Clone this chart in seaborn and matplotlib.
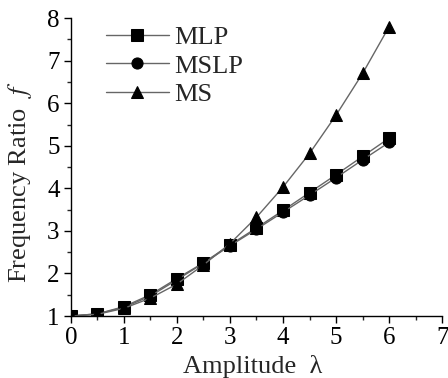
import numpy as np
import pandas as pd
import matplotlib
matplotlib.use("Agg")
import matplotlib.pyplot as plt
import seaborn as sns
from matplotlib.ticker import MultipleLocator

amplitude = [0, 0.5, 1, 1.5, 2, 2.5, 3, 3.5, 4, 4.5, 5, 5.5, 6]
mlp = [1.0, 1.05, 1.22, 1.50, 1.88, 2.25, 2.67, 3.07, 3.48, 3.90, 4.32, 4.75, 5.18]
mslp = [1.0, 1.05, 1.20, 1.47, 1.85, 2.24, 2.65, 3.04, 3.44, 3.84, 4.25, 4.67, 5.08]
ms = [1.0, 1.04, 1.18, 1.42, 1.75, 2.20, 2.70, 3.32, 4.03, 4.82, 5.72, 6.70, 7.80]

series_names = ["MLP", "MSLP", "MS"]
markers = ["s", "o", "^"]

df = pd.DataFrame({
    "Amplitude": amplitude * 3,
    "Ratio": mlp + mslp + ms,
    "Method": [n for n in series_names for _ in amplitude],
})

sns.set_style("ticks")
plt.rcParams["font.family"] = ["Liberation Serif", "DejaVu Serif"]
plt.rcParams["mathtext.fontset"] = "stix"

fig = plt.figure(figsize=(4.48, 3.78), dpi=100)
ax = fig.add_axes([0.158, 0.164, 0.829, 0.788])

for name, mk in zip(series_names, markers):
    sub = df[df["Method"] == name]
    sns.lineplot(data=sub, x="Amplitude", y="Ratio", ax=ax, color="#666666",
                 linewidth=1.0, marker=mk, markersize=8, markerfacecolor="black",
                 markeredgecolor="black", label=name)

ax.set_xlim(0, 7)
ax.set_ylim(1, 8)
ax.xaxis.set_major_locator(MultipleLocator(1))
ax.xaxis.set_minor_locator(MultipleLocator(0.5))
ax.yaxis.set_major_locator(MultipleLocator(1))
ax.yaxis.set_minor_locator(MultipleLocator(0.5))
ax.tick_params(which="major", direction="out", length=5, width=1, labelsize=18,
               colors="black", pad=3)
ax.tick_params(which="minor", direction="out", length=3, width=1)
for s in ["top", "right"]:
    ax.spines[s].set_visible(False)
for s in ["left", "bottom"]:
    ax.spines[s].set_linewidth(1)
    ax.spines[s].set_color("black")

ax.set_xlabel("Amplitude  λ", fontsize=19)
ax.set_ylabel(r"Frequency Ratio  $f$", fontsize=19)
ax.xaxis.set_label_coords(0.49, -0.168)
ax.yaxis.set_label_coords(-0.137, 0.45)
ax.xaxis.label.set_va("center")
ax.yaxis.label.set_va("center")

leg = ax.legend(loc="upper left", bbox_to_anchor=(0.03, 1.055), frameon=False,
                fontsize=19, handlelength=2.4, handletextpad=0.2, labelspacing=0.2)

fig.savefig("out.png", dpi=100)
